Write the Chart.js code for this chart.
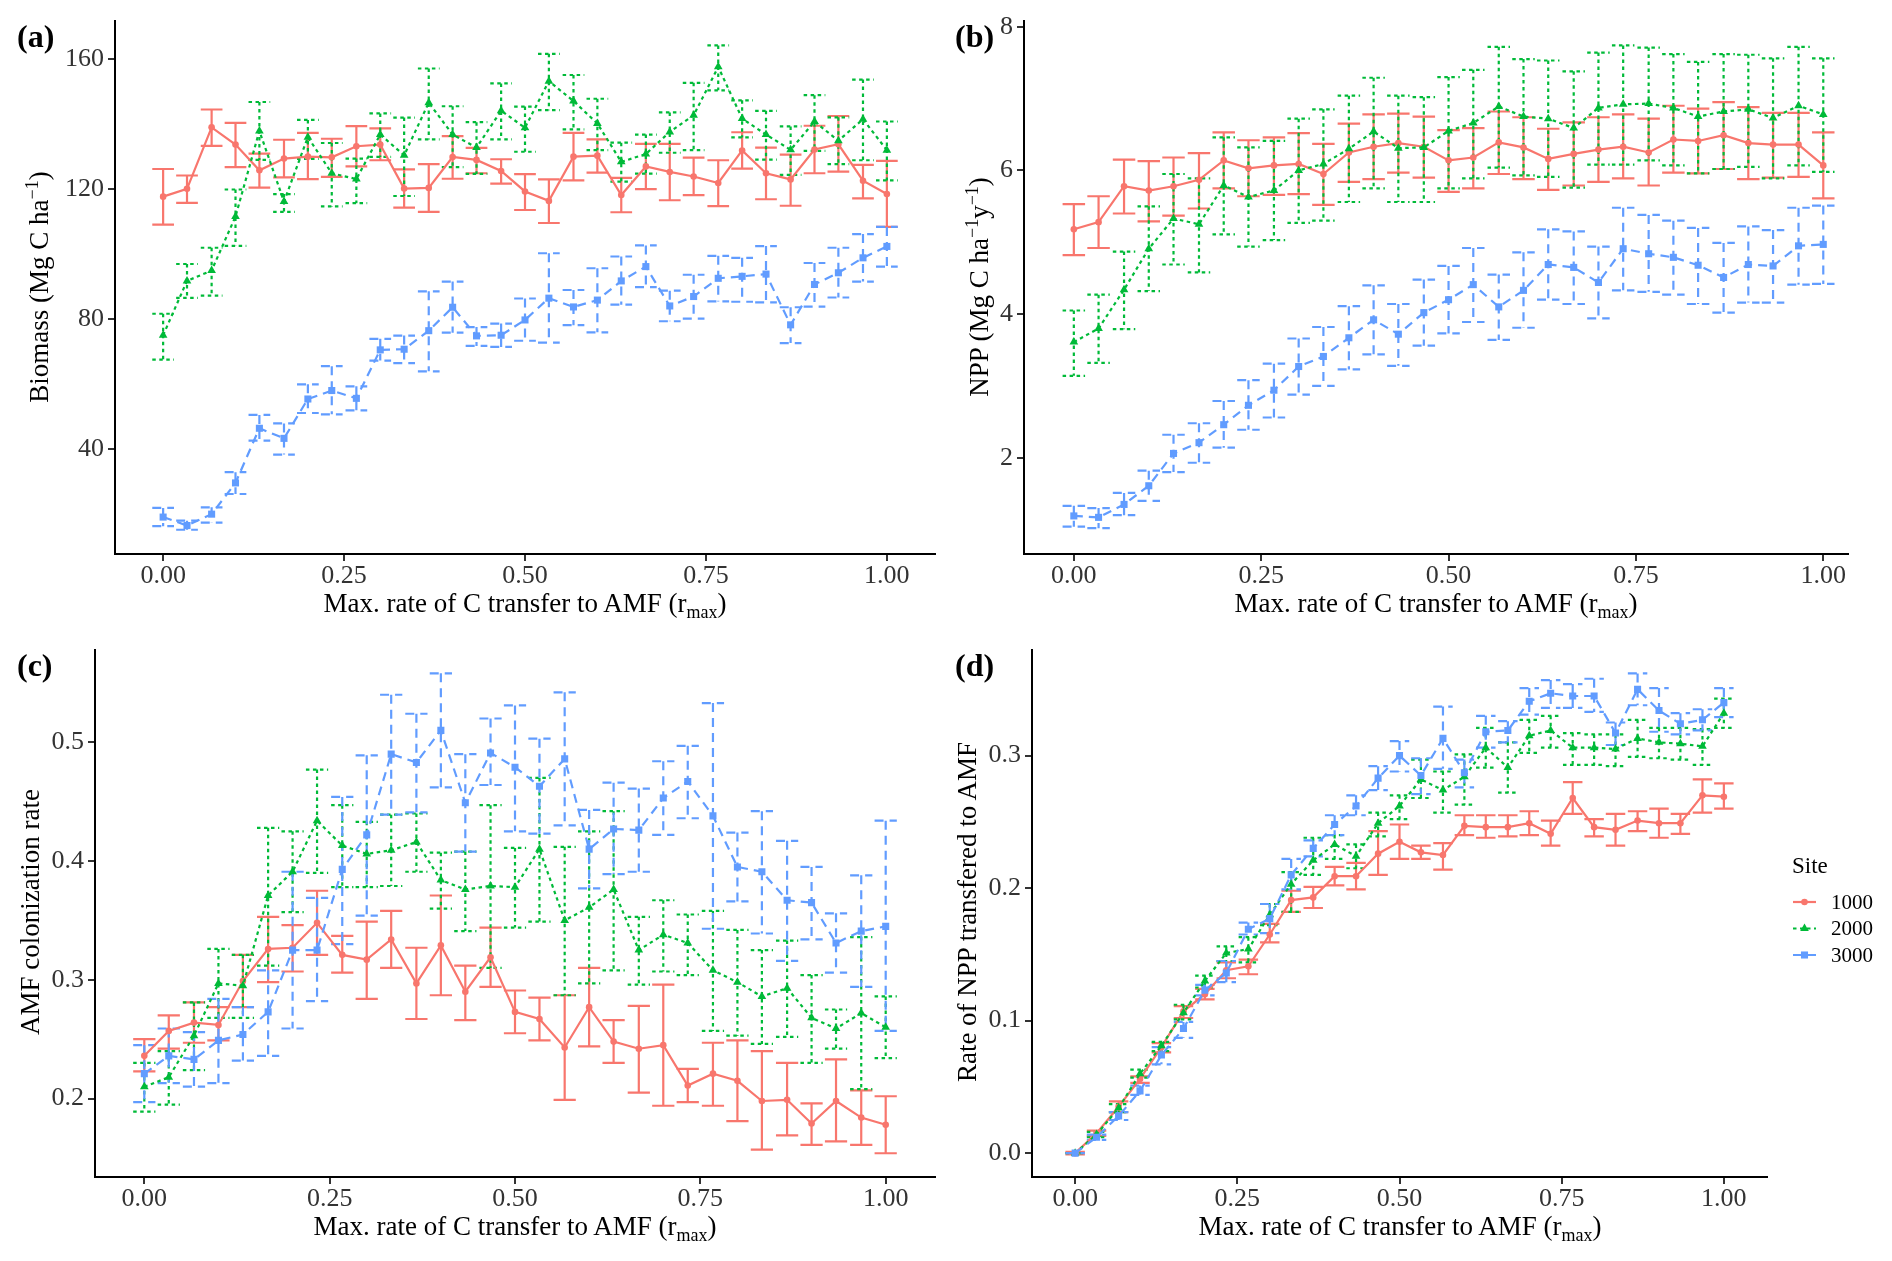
<!DOCTYPE html>
<html>
<head>
<meta charset="utf-8">
<script src="https://cdn.jsdelivr.net/npm/chart.js@4.4.1/dist/chart.umd.min.js"></script>
<style>
body{margin:0;background:#fff;width:1892px;height:1261px;position:relative;overflow:hidden;font-family:"Liberation Serif","Times New Roman",serif;color:#000;}
.panel{position:absolute;}
.lab{position:absolute;font-weight:bold;font-size:32px;line-height:1;}
.xt{position:absolute;font-size:27px;line-height:1;white-space:nowrap;transform:translateX(-50%);}
.yt{position:absolute;font-size:27px;line-height:1;white-space:nowrap;transform:translate(-50%,-50%) rotate(-90deg);}
sub,sup{font-size:18px;line-height:0;}
</style>
</head>
<body>
<div class="panel" style="left:0;top:0;width:946px;height:630px"><canvas id="pa"></canvas></div>
<div class="panel" style="left:946px;top:0;width:946px;height:630px"><canvas id="pb"></canvas></div>
<div class="panel" style="left:0;top:630px;width:946px;height:631px"><canvas id="pc"></canvas></div>
<div class="panel" style="left:946px;top:630px;width:946px;height:631px"><canvas id="pd"></canvas></div>

<div class="lab" style="left:17px;top:20px">(a)</div>
<div class="lab" style="left:955px;top:20px">(b)</div>
<div class="lab" style="left:17px;top:649px">(c)</div>
<div class="lab" style="left:955px;top:649px">(d)</div>

<div class="xt" style="left:525px;top:590px">Max. rate of C transfer to AMF (r<sub>max</sub>)</div>
<div class="xt" style="left:1436px;top:590px">Max. rate of C transfer to AMF (r<sub>max</sub>)</div>
<div class="xt" style="left:515px;top:1213px">Max. rate of C transfer to AMF (r<sub>max</sub>)</div>
<div class="xt" style="left:1400px;top:1213px">Max. rate of C transfer to AMF (r<sub>max</sub>)</div>

<div class="yt" style="left:39px;top:287px">Biomass (Mg C ha<sup>−1</sup>)</div>
<div class="yt" style="left:979px;top:287px">NPP (Mg C ha<sup>−1</sup>y<sup>−1</sup>)</div>
<div class="yt" style="left:30px;top:912px">AMF colonization rate</div>
<div class="yt" style="left:967px;top:912px">Rate of NPP transfered to AMF</div>

<script>
const rmax = [0,0.033,0.067,0.1,0.133,0.167,0.2,0.233,0.267,0.3,0.333,0.367,0.4,0.433,0.467,0.5,0.533,0.567,0.6,0.633,0.667,0.7,0.733,0.767,0.8,0.833,0.867,0.9,0.933,0.967,1];
const sites = ["1000","2000","3000"];
const xTicks = [0,0.25,0.5,0.75,1];

// (a) Biomass
const bio1000 = [117.6,120.0,138.9,133.6,125.7,129.3,129.9,129.7,133.1,133.6,120.1,120.3,129.8,128.9,125.5,119.2,116.3,129.9,130.2,118.1,126.9,125.2,123.8,121.8,131.8,124.8,122.9,132.1,133.7,122.5,118.4];
const bio1000Hi = [126.1,124.1,144.4,140.3,130.8,135.1,137.2,135.4,139.3,138.6,126.0,127.6,136.2,132.6,129.1,124.5,122.9,137.2,135.2,123.4,133.8,133.8,129.6,128.8,137.4,132.7,130.5,139.4,142.4,127.4,128.6];
const bio1000Lo = [109.0,115.7,133.2,126.7,120.4,123.5,123.0,123.7,126.9,128.8,114.2,112.9,123.1,124.8,121.6,113.5,109.5,122.6,125.0,112.8,119.9,116.5,118.1,114.7,126.2,116.8,114.8,124.8,125.3,117.1,108.3];
const bio2000 = [75.0,91.7,94.9,111.5,137.8,116.1,135.9,124.8,123.0,136.7,130.3,146.5,136.7,132.7,144.0,138.8,153.1,147.0,140.1,128.3,130.7,137.5,142.6,157.5,141.6,136.7,132.0,140.7,134.8,141.4,131.9];
const bio2000Hi = [81.6,96.9,101.9,119.8,146.7,118.4,141.2,134.1,129.3,143.2,141.9,157.0,145.4,140.5,152.4,145.3,161.5,155.0,147.7,134.2,136.7,143.5,152.6,164.1,147.2,144.0,139.2,148.8,142.0,153.6,140.7];
const bio2000Lo = [67.5,86.5,87.2,102.5,128.9,112.9,129.2,114.6,115.6,129.8,117.8,135.2,126.7,124.6,135.2,131.4,144.2,138.3,131.9,122.2,124.7,131.1,131.9,150.3,135.8,129.0,124.3,131.7,127.6,128.8,122.6];
const bio3000 = [19.1,16.5,20.0,29.6,46.4,43.3,55.4,58.0,55.6,70.5,70.7,76.4,83.6,74.8,75.0,79.7,86.4,83.7,85.8,91.7,96.1,84.0,86.9,92.5,93.1,93.8,78.2,90.6,94.2,98.8,102.3];
const bio3000Hi = [21.9,18.0,22.1,32.9,50.5,47.9,59.9,65.5,59.3,73.9,74.9,88.5,91.5,77.5,78.6,86.3,100.2,88.9,95.6,99.2,102.6,88.7,93.6,99.4,98.8,102.4,83.6,97.2,101.9,106.1,108.3];
const bio3000Lo = [16.3,15.2,17.4,26.2,42.6,38.3,51.1,50.7,51.9,67.2,66.4,63.9,75.8,71.7,71.4,73.3,72.7,78.1,75.9,84.4,89.8,79.3,80.1,85.4,85.3,85.1,72.6,83.8,86.6,91.5,96.1];

// (b) NPP
const npp1000 = [5.18,5.28,5.78,5.72,5.78,5.87,6.14,6.03,6.07,6.09,5.95,6.25,6.33,6.38,6.33,6.14,6.18,6.39,6.32,6.16,6.23,6.29,6.33,6.25,6.43,6.41,6.49,6.38,6.36,6.36,6.07];
const npp1000Hi = [5.53,5.64,6.15,6.13,6.18,6.24,6.53,6.42,6.46,6.52,6.37,6.65,6.78,6.79,6.75,6.56,6.59,6.82,6.74,6.58,6.67,6.74,6.78,6.72,6.90,6.86,6.95,6.88,6.80,6.80,6.53];
const npp1000Lo = [4.82,4.92,5.40,5.29,5.37,5.47,5.75,5.64,5.66,5.67,5.52,5.84,5.88,5.97,5.90,5.70,5.75,5.95,5.88,5.73,5.79,5.84,5.89,5.79,5.97,5.96,6.02,5.88,5.90,5.91,5.61];
const npp2000 = [3.61,3.80,4.34,4.91,5.33,5.25,5.79,5.63,5.72,6.00,6.09,6.30,6.54,6.31,6.32,6.55,6.66,6.89,6.75,6.72,6.59,6.87,6.92,6.93,6.87,6.75,6.82,6.85,6.73,6.90,6.78];
const npp2000Hi = [4.05,4.27,4.87,5.50,5.95,5.89,6.46,6.32,6.41,6.72,6.85,7.04,7.29,7.04,7.02,7.30,7.40,7.72,7.55,7.53,7.38,7.64,7.74,7.71,7.62,7.51,7.62,7.61,7.56,7.72,7.56];
const npp2000Lo = [3.14,3.32,3.79,4.32,4.69,4.58,5.11,4.94,5.03,5.27,5.30,5.56,5.75,5.56,5.56,5.75,5.89,6.04,5.93,5.91,5.76,6.08,6.08,6.14,6.07,5.96,6.02,6.05,5.89,6.07,5.98];
const npp3000 = [1.19,1.17,1.35,1.61,2.06,2.21,2.46,2.73,2.94,3.27,3.41,3.67,3.92,3.72,4.02,4.20,4.41,4.10,4.33,4.69,4.65,4.44,4.91,4.84,4.79,4.68,4.51,4.69,4.67,4.95,4.97];
const npp3000Hi = [1.33,1.30,1.51,1.82,2.32,2.48,2.79,3.08,3.31,3.66,3.82,4.11,4.40,4.14,4.48,4.67,4.92,4.55,4.86,5.18,5.15,4.94,5.48,5.38,5.30,5.20,4.99,5.22,5.17,5.48,5.51];
const npp3000Lo = [1.04,1.02,1.20,1.40,1.80,1.93,2.14,2.39,2.56,2.88,3.00,3.23,3.44,3.28,3.56,3.73,3.89,3.64,3.81,4.20,4.14,3.94,4.33,4.31,4.27,4.14,4.02,4.16,4.16,4.41,4.42];

// (c) AMF colonization rate
const col1000 = [0.236,0.257,0.264,0.262,0.299,0.326,0.327,0.348,0.321,0.317,0.334,0.297,0.329,0.290,0.319,0.273,0.267,0.243,0.277,0.248,0.242,0.245,0.211,0.221,0.215,0.198,0.199,0.179,0.198,0.184,0.178];
const col1000Hi = [0.250,0.270,0.281,0.277,0.321,0.353,0.346,0.375,0.337,0.349,0.358,0.327,0.371,0.312,0.344,0.291,0.285,0.287,0.310,0.266,0.278,0.296,0.225,0.247,0.249,0.240,0.230,0.196,0.233,0.207,0.202];
const col1000Lo = [0.223,0.242,0.247,0.249,0.277,0.298,0.307,0.321,0.306,0.284,0.310,0.267,0.287,0.266,0.294,0.255,0.249,0.199,0.244,0.230,0.205,0.194,0.197,0.194,0.181,0.157,0.169,0.161,0.164,0.161,0.154];
const col2000 = [0.210,0.218,0.253,0.297,0.295,0.371,0.391,0.434,0.413,0.406,0.409,0.416,0.384,0.376,0.379,0.378,0.410,0.350,0.361,0.376,0.325,0.338,0.331,0.308,0.298,0.286,0.293,0.268,0.259,0.272,0.260];
const col2000Hi = [0.230,0.240,0.281,0.326,0.321,0.428,0.425,0.477,0.447,0.433,0.439,0.440,0.407,0.408,0.447,0.411,0.470,0.412,0.425,0.442,0.353,0.367,0.355,0.358,0.342,0.325,0.333,0.304,0.275,0.336,0.286];
const col2000Lo = [0.189,0.195,0.224,0.268,0.268,0.312,0.357,0.390,0.378,0.378,0.379,0.391,0.360,0.341,0.310,0.344,0.349,0.287,0.297,0.308,0.296,0.307,0.304,0.257,0.253,0.246,0.252,0.230,0.242,0.208,0.234];
const col3000 = [0.221,0.236,0.233,0.249,0.254,0.273,0.325,0.325,0.393,0.422,0.490,0.483,0.510,0.449,0.491,0.479,0.463,0.486,0.410,0.427,0.426,0.453,0.467,0.438,0.395,0.391,0.367,0.365,0.331,0.341,0.345];
const col3000Hi = [0.245,0.259,0.256,0.284,0.277,0.308,0.391,0.369,0.454,0.489,0.540,0.524,0.558,0.490,0.520,0.531,0.503,0.542,0.443,0.466,0.461,0.484,0.497,0.533,0.424,0.442,0.417,0.395,0.356,0.388,0.434];
const col3000Lo = [0.197,0.213,0.210,0.213,0.232,0.236,0.259,0.282,0.330,0.354,0.439,0.441,0.462,0.408,0.464,0.425,0.423,0.430,0.377,0.389,0.391,0.422,0.436,0.343,0.366,0.339,0.316,0.334,0.306,0.294,0.257];

// (d) rate of NPP transferred to AMF
const tr1000 = [0,0.015,0.035,0.056,0.080,0.107,0.120,0.138,0.141,0.165,0.191,0.193,0.209,0.209,0.226,0.235,0.227,0.225,0.247,0.246,0.246,0.249,0.241,0.268,0.246,0.244,0.251,0.249,0.249,0.270,0.269];
const tr1000Hi = [0.001,0.017,0.039,0.058,0.083,0.111,0.124,0.144,0.146,0.173,0.198,0.201,0.216,0.219,0.243,0.248,0.232,0.234,0.255,0.255,0.255,0.258,0.251,0.280,0.252,0.256,0.258,0.260,0.256,0.282,0.279];
const tr1000Lo = [-0.001,0.013,0.031,0.053,0.076,0.102,0.116,0.132,0.135,0.159,0.182,0.185,0.202,0.199,0.210,0.222,0.222,0.214,0.240,0.238,0.239,0.240,0.232,0.256,0.239,0.232,0.243,0.238,0.241,0.257,0.260];
const tr2000 = [0,0.014,0.034,0.060,0.081,0.106,0.130,0.151,0.154,0.180,0.203,0.221,0.233,0.224,0.249,0.262,0.282,0.274,0.284,0.306,0.291,0.315,0.319,0.306,0.306,0.305,0.313,0.310,0.309,0.307,0.332];
const tr2000Hi = [0,0.016,0.037,0.063,0.084,0.112,0.134,0.156,0.163,0.188,0.212,0.238,0.240,0.233,0.257,0.270,0.297,0.288,0.301,0.321,0.310,0.327,0.330,0.317,0.316,0.316,0.327,0.321,0.321,0.320,0.343];
const tr2000Lo = [0,0.012,0.031,0.057,0.077,0.101,0.125,0.145,0.144,0.172,0.182,0.210,0.222,0.215,0.239,0.252,0.268,0.257,0.263,0.291,0.272,0.302,0.306,0.293,0.293,0.292,0.299,0.298,0.297,0.293,0.321];
const tr3000 = [0,0.012,0.028,0.047,0.074,0.094,0.123,0.136,0.169,0.177,0.210,0.230,0.248,0.262,0.283,0.300,0.285,0.313,0.287,0.318,0.319,0.341,0.347,0.345,0.345,0.317,0.350,0.334,0.324,0.327,0.340];
const tr3000Hi = [0,0.014,0.031,0.051,0.080,0.099,0.127,0.145,0.174,0.188,0.222,0.236,0.255,0.270,0.292,0.311,0.298,0.337,0.297,0.330,0.326,0.351,0.357,0.354,0.358,0.325,0.362,0.351,0.332,0.335,0.351];
const tr3000Lo = [0,0.010,0.025,0.044,0.067,0.087,0.119,0.129,0.165,0.166,0.199,0.224,0.240,0.255,0.274,0.288,0.271,0.290,0.276,0.306,0.310,0.331,0.336,0.336,0.333,0.308,0.338,0.318,0.316,0.319,0.329];

const bioTicks = [40,80,120,160];
const nppTicks = [2,4,6,8];
const colTicks = [0.2,0.3,0.4,0.5];
const trTicks = [0,0.1,0.2,0.3];

// look of the three sites (ggplot defaults)
const colors = ["#F8766D","#00BA38","#619CFF"];
const dashes = [[],[3.5,3.5],[9,6]];
const shapes = ["circle","triangle","rect"];
const radii = [3.3,5,5];
const serif = "'Liberation Serif','Times New Roman',serif";
const CAP = 0.015;

const errorBars = {
  id: "errorBars",
  beforeDatasetsDraw(chart){
    const ctx = chart.ctx;
    const xs = chart.scales.x, ys = chart.scales.y;
    chart.data.datasets.forEach((ds) => {
      ctx.save();
      ctx.strokeStyle = ds.borderColor;
      ctx.lineWidth = ds.borderWidth;
      ctx.setLineDash(ds.borderDash);
      ds.data.forEach(p => {
        const x = xs.getPixelForValue(p.x);
        const x0 = xs.getPixelForValue(p.x - CAP);
        const x1 = xs.getPixelForValue(p.x + CAP);
        const yh = ys.getPixelForValue(p.hi);
        const yl = ys.getPixelForValue(p.lo);
        ctx.beginPath();
        ctx.moveTo(x0, yh); ctx.lineTo(x1, yh);
        ctx.moveTo(x, yh); ctx.lineTo(x, yl);
        ctx.moveTo(x0, yl); ctx.lineTo(x1, yl);
        ctx.stroke();
      });
      ctx.restore();
    });
  }
};

function marker(ctx, k, x, y){
  const r = radii[k];
  ctx.beginPath();
  if(shapes[k] == "circle"){
    ctx.arc(x, y, r, 0, Math.PI*2);
  }else if(shapes[k] == "triangle"){
    ctx.moveTo(x, y - r);
    ctx.lineTo(x + r*0.866, y + r*0.5);
    ctx.lineTo(x - r*0.866, y + r*0.5);
    ctx.closePath();
  }else{
    const s = r*Math.SQRT1_2;
    ctx.rect(x - s, y - s, 2*s, 2*s);
  }
  ctx.fill();
}

const siteLegend = {
  id: "siteLegend",
  afterDraw(chart, args, o){
    if(!o.show) return;
    const ctx = chart.ctx;
    ctx.save();
    ctx.fillStyle = "#000";
    ctx.font = "23px " + serif;
    ctx.textBaseline = "alphabetic";
    ctx.fillText("Site", o.x, o.y);
    sites.forEach((s,k) => {
      const yy = o.y + 29 + k*26.5;
      ctx.strokeStyle = colors[k];
      ctx.lineWidth = 2.2;
      ctx.setLineDash(dashes[k]);
      ctx.beginPath();
      ctx.moveTo(o.x + 1, yy); ctx.lineTo(o.x + 24, yy);
      ctx.stroke();
      ctx.setLineDash([]);
      ctx.fillStyle = colors[k];
      marker(ctx, k, o.x + 12.5, yy);
      ctx.fillStyle = "#000";
      ctx.font = "21px " + serif;
      ctx.textBaseline = "middle";
      ctx.fillText(s, o.x + 39, yy + 1);
    });
    ctx.restore();
  }
};

function panel(id, means, his, los, yMin, yMax, yTicks, yDigits, box, legend){
  const datasets = means.map((m,k) => ({
    label: sites[k],
    data: rmax.map((x,i) => ({x: x, y: m[i], hi: his[k][i], lo: los[k][i]})),
    borderColor: colors[k],
    backgroundColor: colors[k],
    pointBackgroundColor: colors[k],
    borderWidth: 2.2,
    borderDash: dashes[k],
    pointStyle: shapes[k],
    pointRadius: radii[k],
    pointHoverRadius: radii[k],
    pointBorderWidth: 0,
    tension: 0,
    fill: false,
    order: 3 - k
  }));

  new Chart(document.getElementById(id), {
    type: "line",
    data: {datasets: datasets},
    plugins: [errorBars, siteLegend],
    options: {
      responsive: true,
      maintainAspectRatio: false,
      animation: false,
      layout: {padding: {left: 0, top: box.top, right: box.right, bottom: box.bottom}},
      plugins: {
        legend: {display: false},
        tooltip: {enabled: false},
        siteLegend: legend || {show: false}
      },
      scales: {
        x: {
          type: "linear",
          min: -0.0665,
          max: box.xMax,
          afterBuildTicks: s => { s.ticks = xTicks.map(v => ({value: v})); },
          afterFit: s => { s.height = 60; },
          ticks: {callback: v => v.toFixed(2), font: {family: serif, size: 26}, color: "#333", padding: 0, maxRotation: 0, autoSkip: false},
          grid: {drawOnChartArea: false, tickLength: 7, color: "#333", lineWidth: 2},
          border: {color: "#000", width: 2}
        },
        y: {
          min: yMin,
          max: yMax,
          afterBuildTicks: s => { s.ticks = yTicks.map(v => ({value: v})); },
          afterFit: s => { s.width = box.left; },
          ticks: {callback: v => v.toFixed(yDigits), font: {family: serif, size: 26}, color: "#333", padding: 4},
          grid: {drawOnChartArea: false, tickLength: 7, color: "#333", lineWidth: 2},
          border: {color: "#000", width: 2}
        }
      }
    }
  });
}

panel("pa", [bio1000, bio2000, bio3000], [bio1000Hi, bio2000Hi, bio3000Hi], [bio1000Lo, bio2000Lo, bio3000Lo],
  7.75, 171.6, bioTicks, 0, {left: 115, top: 21, right: 11, bottom: 16, xMax: 1.0665});
panel("pb", [npp1000, npp2000, npp3000], [npp1000Hi, npp2000Hi, npp3000Hi], [npp1000Lo, npp2000Lo, npp3000Lo],
  0.66, 8.08, nppTicks, 0, {left: 78, top: 21, right: 44, bottom: 16, xMax: 1.033});
panel("pc", [col1000, col2000, col3000], [col1000Hi, col2000Hi, col3000Hi], [col1000Lo, col2000Lo, col3000Lo],
  0.134, 0.578, colTicks, 1, {left: 95, top: 17, right: 11, bottom: 24, xMax: 1.0665});
panel("pd", [tr1000, tr2000, tr3000], [tr1000Hi, tr2000Hi, tr3000Hi], [tr1000Lo, tr2000Lo, tr3000Lo],
  -0.018, 0.380, trTicks, 1, {left: 86, top: 16, right: 125, bottom: 24, xMax: 1.0665},
  {show: true, x: 846, y: 243});
</script>
</body>
</html>
